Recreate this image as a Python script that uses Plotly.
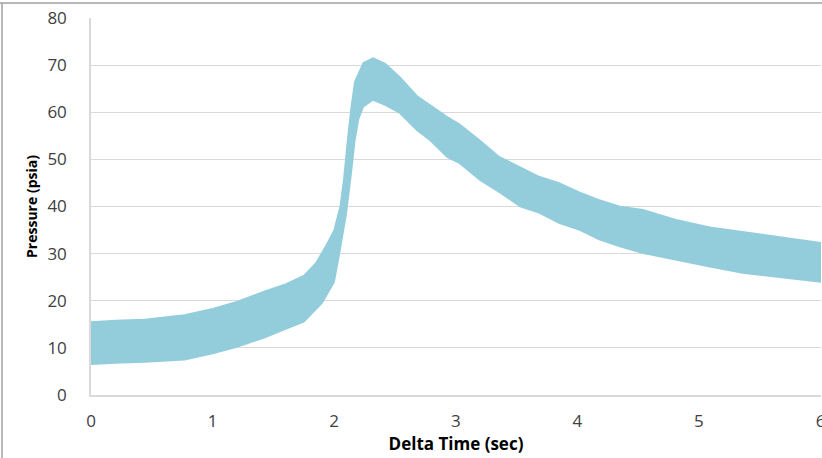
import plotly.graph_objects as go

# Upper envelope of the noisy pressure trace
upper_t = [0, 0.2, 0.44, 0.77, 1.0, 1.2, 1.43, 1.6, 1.75, 1.85, 1.94, 2.0, 2.05, 2.08, 2.11, 2.14,
           2.17, 2.24, 2.32, 2.42, 2.54, 2.68, 2.79, 2.93, 3.03, 3.2, 3.36, 3.53, 3.69, 3.85,
           4.02, 4.18, 4.35, 4.54, 4.81, 5.09, 5.36, 5.64, 6.0]
upper_p = [15.5, 15.8, 16.0, 17.0, 18.3, 19.8, 22.0, 23.5, 25.3, 28.0, 32.0, 35.0, 40.0, 46.0, 54.0, 61.0,
           66.5, 70.5, 71.5, 70.3, 67.5, 63.5, 61.5, 59.0, 57.5, 54.0, 50.5, 48.4, 46.3, 45.0,
           43.0, 41.4, 40.0, 39.3, 37.2, 35.6, 34.6, 33.5, 32.3]

# Lower envelope of the noisy pressure trace
lower_t = [0, 0.2, 0.44, 0.77, 1.0, 1.2, 1.43, 1.6, 1.75, 1.9, 2.0, 2.05, 2.1, 2.14, 2.17, 2.2,
           2.24, 2.32, 2.42, 2.54, 2.68, 2.79, 2.93, 3.03, 3.2, 3.36, 3.53, 3.69, 3.85, 4.02,
           4.18, 4.35, 4.54, 4.81, 5.09, 5.36, 5.64, 6.0]
lower_p = [6.5, 6.8, 7.0, 7.5, 8.8, 10.2, 12.2, 14.0, 15.5, 19.5, 24.0, 31.0, 38.6, 47.0, 54.0, 58.5,
           61.2, 62.6, 61.5, 59.8, 56.2, 54.0, 50.5, 49.2, 45.6, 43.0, 40.0, 38.6, 36.5, 35.0,
           33.0, 31.5, 30.1, 28.6, 27.2, 25.9, 25.0, 24.0]

y_ticks = [0, 10, 20, 30, 40, 50, 60, 70, 80]
x_ticks = [0, 1, 2, 3, 4, 5, 6]

band_x = upper_t + lower_t[::-1]
band_y = upper_p + lower_p[::-1]

fig = go.Figure()
fig.add_trace(go.Scatter(
    x=band_x, y=band_y, mode="lines", fill="toself",
    fillcolor="#93CDDC", line=dict(color="#93CDDC", width=1.5),
    hoverinfo="skip", showlegend=False,
))

tick_font = dict(family="Open Sans, sans-serif", size=17, color="#404040")

fig.update_layout(
    width=822, height=458,
    margin=dict(l=91, r=1, t=18, b=63),
    paper_bgcolor="white", plot_bgcolor="white",
    showlegend=False,
    xaxis=dict(
        range=[0, 6.004], tickvals=x_ticks, ticktext=[str(v) for v in x_ticks],
        showgrid=False, zeroline=False, automargin=False,
        showline=True, linecolor="#D9D9D9", linewidth=1.5,
        ticks="", tickfont=tick_font, ticklabelstandoff=10,
        ticklabeloverflow="allow",
        title=dict(text="<b>Delta Time (sec)</b>", standoff=4,
                   font=dict(family="Open Sans, sans-serif", size=17, color="#000000")),
    ),
    yaxis=dict(
        range=[0, 80], tickvals=y_ticks, ticktext=[str(v) for v in y_ticks],
        showgrid=True, gridcolor="#D9D9D9", gridwidth=1.2, zeroline=False, automargin=False,
        showline=True, linecolor="#D9D9D9", linewidth=1.5,
        ticks="", tickfont=tick_font, ticklabelstandoff=19,
        title=dict(text="<b>Pressure (psia)</b>", standoff=6,
                   font=dict(family="Open Sans, sans-serif", size=14, color="#000000")),
    ),
    shapes=[
        dict(type="line", xref="paper", yref="paper", x0=-91/730, x1=1.01,
             y0=1 + 15/377, y1=1 + 15/377, line=dict(color="#A0A0A0", width=1.5)),
        dict(type="line", xref="paper", yref="paper", x0=-89/730, x1=-89/730,
             y0=-1, y1=1 + 15/377, line=dict(color="#A0A0A0", width=1.5)),
    ],
)

fig.write_html(
    "out.html",
    config={"displayModeBar": False},
    post_script="document.body.style.margin='0';document.body.style.overflow='hidden';",
)
